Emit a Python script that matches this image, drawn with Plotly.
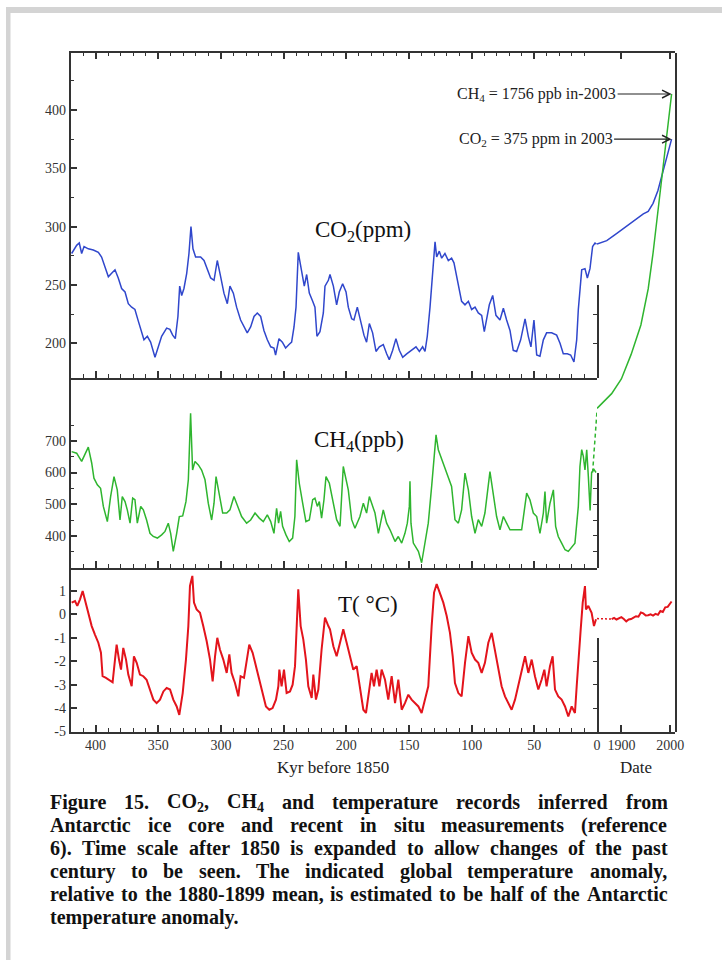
import plotly.graph_objects as go

# ---------------- data ----------------
co2_kyr = [419.1, 415.1, 413.0, 411.1, 409.2, 405.8, 401.8, 397.8, 395.2, 391.7, 389.8, 387.2, 384.5, 381.9,
           379.2, 376.5, 373.9, 371.2, 368.6, 365.9, 363.2, 361.4, 358.7, 356.1, 352.6, 350.0, 347.3, 343.3,
           340.7, 338.5, 336.4, 334.3, 332.9, 331.3, 329.5, 327.3, 325.5, 323.9, 322.3, 320.2, 316.2, 313.5,
           310.9, 308.2, 305.5, 303.9, 302.9, 300.2, 297.6, 294.9, 292.8, 290.1, 287.5, 284.3, 281.6, 279.0,
           276.3, 273.6, 271.0, 268.3, 265.7, 263.0, 260.3, 257.7, 256.4, 253.7, 251.0, 248.4, 245.7, 243.6,
           241.7, 240.1, 238.3, 235.6, 233.5, 231.6, 229.5, 226.8, 225.0, 223.4, 221.0, 218.3, 217.0, 214.3,
           213.0, 210.3, 207.7, 205.6, 202.9, 200.2, 198.4, 195.7, 193.9, 191.2, 188.5, 185.9, 183.8, 181.6,
           179.0, 176.3, 173.6, 170.5, 167.8, 165.7, 163.0, 160.4, 157.7, 155.0, 151.8, 147.9, 144.4, 141.7,
           139.1, 137.2, 135.4, 133.2, 131.1, 129.2, 127.9, 125.8, 123.9, 121.3, 118.6, 116.0, 114.1, 112.5,
           110.6, 108.0, 105.3, 102.6, 100.0, 97.3, 94.7, 92.0, 89.9, 88.0, 85.9, 83.2, 80.6, 77.4, 74.7,
           72.1, 69.4, 66.8, 64.1, 60.9, 57.4, 54.8, 52.7, 50.3, 48.1, 45.5, 42.8, 40.2, 36.2, 32.2, 29.5,
           26.9, 23.7, 21.0, 18.4, 16.2, 14.9, 12.2, 9.6, 7.7, 5.6, 3.5, 1.6, 0.4]
co2_ppm = [277, 284, 286, 277, 283, 281, 280, 278, 274, 263, 257, 260, 263, 256,
           247, 244, 234, 231, 229, 219, 210, 203, 206, 201, 188, 197, 206, 213,
           212, 207, 204, 223, 249, 241, 247, 260, 277, 300, 281, 274, 274, 271,
           263, 256, 254, 263, 271, 257, 243, 234, 249, 243, 231, 220, 214, 209,
           214, 223, 226, 223, 211, 203, 197, 196, 190, 204, 201, 196, 199, 201,
           214, 231, 278, 260, 249, 259, 243, 236, 231, 206, 210, 226, 249, 254,
           259, 249, 233, 244, 251, 244, 231, 221, 220, 231, 220, 207, 201, 217,
           209, 193, 197, 199, 191, 186, 194, 204, 194, 188, 191, 194, 197, 193,
           197, 193, 206, 231, 263, 287, 274, 279, 273, 277, 271, 273, 269, 260,
           249, 236, 233, 236, 229, 231, 226, 224, 210, 220, 233, 241, 224, 220, 230,
           220, 211, 194, 193, 203, 221, 206, 197, 220, 190, 189, 203, 209, 209, 207, 200,
           191, 191, 190, 184, 203, 229, 263, 264, 256, 264, 283, 286, 285]

ch4_kyr = [419.1, 415.1, 411.1, 408.4, 405.8, 403.1, 401.3, 398.6, 396.0, 393.8, 390.6, 388.0, 385.3, 382.7,
           380.5, 378.7, 376.5, 374.7, 372.5, 370.4, 368.6, 366.7, 364.0, 361.9, 359.3, 356.6, 354.0, 350.7,
           347.3, 344.6, 342.0, 340.1, 338.0, 335.3, 333.2, 330.5, 327.9, 326.0, 324.2, 322.6, 320.7, 318.0,
           315.4, 312.7, 310.1, 307.4, 305.5, 303.9, 301.3, 298.6, 295.4, 292.8, 289.6, 286.9, 283.5, 279.5,
           276.3, 272.8, 269.4, 266.2, 263.0, 260.3, 257.7, 255.6, 254.0, 252.4, 250.8, 248.1, 245.5, 242.8,
           241.0, 239.6, 237.5, 234.8, 232.2, 229.5, 226.8, 225.0, 223.1, 221.5, 219.7, 217.8, 216.2, 213.5,
           210.3, 207.7, 205.0, 202.4, 198.4, 195.7, 193.1, 189.1, 186.4, 183.8, 181.6, 179.8, 177.1, 174.4,
           170.5, 167.8, 165.1, 161.1, 158.5, 155.8, 153.2, 151.3, 149.7, 149.2, 148.4, 146.5, 142.5, 139.9,
           137.2, 134.6, 131.9, 128.4, 126.6, 122.6, 118.6, 116.0, 113.3, 110.6, 108.0, 105.3, 102.6, 100.0,
           97.3, 94.7, 92.0, 89.4, 85.4, 82.7, 80.1, 77.4, 74.7, 72.1, 69.4, 65.4, 60.1, 56.1, 53.5, 50.8,
           48.1, 45.5, 42.8, 41.5, 40.2, 37.5, 34.8, 33.0, 30.9, 28.2, 25.5, 22.9, 20.2, 17.6, 14.9, 13.6,
           12.2, 10.9, 9.6, 8.2, 6.9, 5.5, 4.3, 2.5, 0.8]
ch4_ppb = [666, 661, 635, 656, 680, 630, 582, 561, 550, 493, 445, 524, 587, 545,
           450, 524, 508, 482, 440, 519, 514, 440, 493, 482, 450, 408, 398, 393,
           403, 414, 440, 408, 351, 408, 461, 463, 508, 577, 787, 608, 635, 624,
           608, 577, 503, 450, 503, 587, 535, 472, 472, 482, 524, 493, 461, 440,
           450, 472, 456, 445, 466, 445, 408, 487, 440, 477, 430, 403, 382, 393,
           461, 640, 566, 503, 445, 450, 514, 519, 493, 508, 456, 514, 587, 566,
           503, 451, 430, 619, 545, 451, 424, 461, 503, 472, 524, 503, 472, 408,
           482, 440, 419, 382, 398, 377, 408, 440, 493, 572, 440, 377, 351, 315,
           377, 440, 556, 719, 672, 629, 587, 556, 451, 440, 482, 598, 545, 461,
           408, 451, 430, 472, 603, 524, 461, 419, 461, 440, 419, 419, 419, 535, 514, 472,
           461, 408, 472, 540, 440, 503, 545, 430, 398, 377, 356, 351, 366, 377, 493, 619,
           672, 651, 608, 672, 587, 480, 600, 610, 600]

t_kyr = [419.1, 416.4, 414.6, 412.4, 410.3, 408.5, 405.8, 403.1, 400.5, 397.8, 395.7, 394.4, 391.7, 389.0,
         386.4, 384.5, 383.2, 381.3, 379.7, 377.9, 375.7, 373.9, 371.2, 369.4, 367.2, 364.6, 361.9, 359.3,
         356.6, 353.9, 351.3, 348.6, 345.9, 343.3, 340.6, 338.0, 335.3, 333.2, 330.5, 327.9, 326.0, 324.7,
         322.8, 321.5, 319.4, 316.7, 314.1, 311.4, 308.7, 306.6, 304.7, 302.9, 300.8, 298.1, 295.4, 293.3,
         291.5, 288.8, 286.1, 284.3, 281.6, 279.5, 277.4, 274.7, 272.0, 269.4, 266.7, 264.1, 261.4, 258.8,
         256.1, 254.2, 253.4, 251.6, 249.7, 247.6, 244.9, 242.8, 240.9, 238.3, 236.4, 234.3, 232.2, 230.3,
         227.6, 226.3, 224.2, 222.3, 219.7, 217.0, 214.3, 213.0, 210.3, 207.7, 205.0, 202.4, 199.7, 197.0,
         194.4, 191.7, 189.1, 186.4, 184.3, 181.6, 179.8, 177.9, 175.8, 173.6, 171.8, 169.1, 166.5, 163.8,
         161.1, 158.5, 155.8, 153.2, 150.5, 147.9, 145.2, 142.5, 139.9, 137.2, 134.6, 131.9, 130.0, 127.9,
         125.3, 122.6, 119.9, 117.3, 115.1, 113.3, 110.6, 108.0, 105.3, 102.6, 100.0, 97.3, 94.7, 92.0,
         89.4, 86.7, 84.0, 81.4, 78.7, 76.1, 73.4, 70.7, 68.1, 65.4, 62.8, 60.1, 57.4, 54.8, 52.1, 49.5,
         46.8, 44.2, 42.0, 40.2, 37.5, 35.4, 33.5, 30.9, 28.2, 25.5, 22.9, 20.2, 17.6, 16.2, 14.9, 13.0,
         11.4, 9.6, 8.8, 6.9, 4.3, 2.4, 0.8]
t_degc = [0.5, 0.57, 0.36, 0.64, 1.0, 0.64, 0.07, -0.5, -0.86, -1.21, -1.64, -2.64, -2.71, -2.79,
          -2.9, -1.93, -1.29, -1.93, -2.36, -1.43, -1.93, -2.57, -3.07, -1.79, -2.07, -2.57, -2.64, -2.79,
          -3.21, -3.64, -3.79, -3.64, -3.29, -3.14, -3.21, -3.64, -3.93, -4.29, -3.36, -1.93, -0.5, 1.21,
          1.64, 0.5, 0.21, 0.07, -0.5, -1.14, -1.93, -2.86, -1.79, -1.0, -1.5, -1.93, -2.5, -1.71,
          -2.5, -2.93, -3.5, -2.64, -2.71, -2.07, -1.29, -1.64, -2.21, -2.79, -3.36, -3.93, -4.07, -4.0,
          -3.64, -3.07, -2.36, -3.07, -2.36, -3.36, -3.29, -3.0, -2.21, 1.07, -0.5, -1.07, -1.93, -3.07,
          -3.57, -2.57, -3.64, -3.21, -1.5, -0.14, -0.5, -0.64, -1.36, -1.79, -1.21, -0.64, -1.21, -1.79,
          -2.36, -2.21, -3.21, -4.07, -4.21, -3.07, -2.5, -3.07, -2.36, -3.07, -2.36, -2.79, -3.64, -2.64,
          -3.79, -2.79, -4.07, -3.79, -3.43, -3.64, -3.79, -3.93, -4.21, -3.64, -3.07, -0.5, 0.93, 1.29,
          0.93, 0.5, -0.07, -0.79, -1.79, -2.93, -3.36, -3.5, -2.07, -0.93, -1.64, -1.93, -2.07, -2.5,
          -2.07, -1.21, -0.79, -1.5, -2.21, -3.07, -3.5, -3.79, -4.07, -3.64, -3.07, -2.36, -1.79, -2.5, -1.93, -2.64,
          -3.21, -2.79, -2.36, -3.07, -2.21, -1.79, -3.21, -3.5, -3.64, -3.93, -4.36, -3.93, -4.21, -3.07, -1.93, -0.64,
          0.5, 1.21, 0.21, 0.36, 0.07, -0.5, -0.21]

co2_year = [1850, 1870, 1890, 1910, 1930, 1945, 1955, 1965, 1975, 1985, 1995, 2003]
co2_modern = [285, 288, 294, 300, 306, 311, 313, 320, 331, 346, 361, 375]

ch4_year = [1850, 1880, 1900, 1920, 1940, 1955, 1965, 1975, 1985, 1995, 2003]
ch4_modern = [795, 840, 885, 960, 1050, 1160, 1270, 1400, 1530, 1660, 1756]
ch4_link_kyr = [3.5, 0.0]
ch4_link_ppb = [600, 795]

t_gap_year = [1850, 1880]
t_gap_degc = [-0.18, -0.2]
t_year = [1880, 1885, 1890, 1895, 1900, 1905, 1910, 1915, 1920, 1925, 1930, 1935, 1940, 1945,
          1950, 1955, 1960, 1965, 1970, 1975, 1980, 1985, 1990, 1995, 2000, 2003]
t_modern = [-0.2, -0.15, -0.22, -0.17, -0.12, -0.2, -0.3, -0.22, -0.2, -0.14, -0.08, -0.1, 0.08, 0.04,
            -0.05, -0.04, 0.0, -0.05, 0.02, -0.02, 0.14, 0.1, 0.3, 0.32, 0.45, 0.55]

kyr_ticks = [0, 50, 100, 150, 200, 250, 300, 350, 400]
co2_ticks = [200, 250, 300, 350, 400]
ch4_ticks = [400, 500, 600, 700]
t_ticks = [-5, -4, -3, -2, -1, 0, 1]
t_ticktext = ["-5", "-4", "-3", "-2", "-1", "0", "1"]
year_ticks = [1900, 2000]

caption_lines = [
    ["Figure", "15.", "CO<sub>2</sub>,", "CH<sub>4</sub>", "and", "temperature", "records", "inferred", "from"],
    ["Antarctic", "ice", "core", "and", "recent", "in", "situ", "measurements", "(reference"],
    ["6).", "Time", "scale", "after", "1850", "is", "expanded", "to", "allow", "changes", "of", "the", "past"],
    ["century", "to", "be", "seen.", "The", "indicated", "global", "temperature", "anomaly,"],
    ["relative", "to", "the", "1880-1899", "mean,", "is", "estimated", "to", "be", "half", "of", "the", "Antarctic"],
]
caption_last = "temperature anomaly."

# ---------------- geometry (pixels) ----------------
W, H = 722, 960
XL, X0, XR = 70.5, 597.0, 675.0
YT, Y1, Y2, Y3 = 52.5, 377.5, 567.5, 731.5

def fx(p):
    return p / W

def fy(p):
    return 1 - p / H

BLUE, GREEN, RED = "#3047cc", "#2fb52f", "#e3141c"
AX = "#333333"
SERIF = "Liberation Serif"
tickfont = dict(family=SERIF, size=14, color="#333333")

fig = go.Figure()
fig.add_trace(go.Scatter(x=co2_kyr, y=co2_ppm, xaxis="x", yaxis="y", mode="lines",
                         line=dict(color=BLUE, width=1.5)))
fig.add_trace(go.Scatter(x=ch4_kyr, y=ch4_ppb, xaxis="x2", yaxis="y2", mode="lines",
                         line=dict(color=GREEN, width=1.5)))
fig.add_trace(go.Scatter(x=ch4_link_kyr, y=ch4_link_ppb, xaxis="x2", yaxis="y2", mode="lines",
                         line=dict(color=GREEN, width=1.5, dash="4px,3px")))
fig.add_trace(go.Scatter(x=t_kyr, y=t_degc, xaxis="x3", yaxis="y3", mode="lines",
                         line=dict(color=RED, width=2.0)))
fig.add_trace(go.Scatter(x=co2_year, y=co2_modern, xaxis="x4", yaxis="y4", mode="lines",
                         line=dict(color=BLUE, width=1.5)))
fig.add_trace(go.Scatter(x=ch4_year, y=ch4_modern, xaxis="x5", yaxis="y5", mode="lines",
                         line=dict(color=GREEN, width=1.5)))
fig.add_trace(go.Scatter(x=t_gap_year, y=t_gap_degc, xaxis="x6", yaxis="y6", mode="lines",
                         line=dict(color=RED, width=1.5, dash="2px,2px")))
fig.add_trace(go.Scatter(x=t_year, y=t_modern, xaxis="x6", yaxis="y6", mode="lines",
                         line=dict(color=RED, width=2.0)))
# empty traces that register the short right-hand axes of the left panels
for xa, ya in (("x", "y7"), ("x2", "y8"), ("x3", "y9")):
    fig.add_trace(go.Scatter(x=[None], y=[None], xaxis=xa, yaxis=ya, mode="lines"))

base_x = dict(showgrid=False, zeroline=False, showline=True, linecolor=AX, linewidth=1.6, automargin=False,
              ticks="inside", tickcolor=AX, tickwidth=1.5, ticklen=7, tickfont=tickfont)
left_x = dict(base_x, domain=[fx(XL), fx(X0)], range=[420, 0], tickmode="array", tickvals=kyr_ticks,
              minor=dict(dtick=10, tick0=0, ticks="inside", ticklen=4, tickcolor=AX, tickwidth=1.3))
right_x = dict(base_x, domain=[fx(X0), fx(XR)], range=[1850, 2010], tickmode="array", tickvals=year_ticks)
base_y = dict(showgrid=False, zeroline=False, showline=True, linecolor=AX, linewidth=1.6, automargin=False,
              ticks="inside", tickcolor=AX, tickwidth=1.5, ticklen=7, tickfont=tickfont, tickmode="array")
hidden = dict(visible=False, automargin=False, showgrid=False, zeroline=False)

CO2_RANGE = [170.7, 449.3]
fig.update_layout(
    template="none",
    width=W, height=H, autosize=False,
    margin=dict(l=0, r=0, t=0, b=0, pad=0, autoexpand=False),
    paper_bgcolor="white", plot_bgcolor="rgba(0,0,0,0)",
    showlegend=False,
    xaxis=dict(left_x, anchor="y", mirror="ticks", showticklabels=False),
    xaxis2=dict(left_x, anchor="y2", showticklabels=False),
    xaxis3=dict(left_x, anchor="y3", showticklabels=True),
    yaxis=dict(base_y, domain=[fy(Y1), fy(YT)], range=CO2_RANGE, anchor="x", tickvals=co2_ticks,
               minor=dict(tickmode="array", tickvals=[225, 275, 325, 375, 425], ticks="inside",
                          ticklen=4, tickcolor=AX, tickwidth=1.3)),
    yaxis2=dict(base_y, domain=[fy(Y2), fy(Y1)], range=[300, 900], anchor="x2", tickvals=ch4_ticks,
                minor=dict(tickmode="array", tickvals=[350, 450, 550, 650, 750], ticks="inside",
                           ticklen=4, tickcolor=AX, tickwidth=1.3)),
    yaxis3=dict(base_y, domain=[fy(Y3), fy(Y2)], range=[-5, 2], anchor="x3", tickvals=t_ticks,
                ticktext=t_ticktext),
    xaxis4=dict(right_x, anchor="y4", side="top", showticklabels=False),
    yaxis4=dict(hidden, domain=[fy(Y1), fy(YT)], range=CO2_RANGE, anchor="x4"),
    xaxis5=dict(hidden, domain=[fx(X0), fx(XR)], range=[1850, 2010], anchor="y5"),
    yaxis5=dict(domain=[fy(Y3), fy(YT)], range=[-192.8, 1882.9], anchor="x5", side="right",
                showline=True, linecolor=AX, linewidth=1.6, ticks="", showticklabels=False,
                showgrid=False, zeroline=False, automargin=False),
    xaxis6=dict(right_x, anchor="y6", showticklabels=True),
    yaxis6=dict(hidden, domain=[fy(Y3), fy(Y2)], range=[-5, 2], anchor="x6"),
    yaxis7=dict(base_y, domain=[fy(Y1), fy(285.0)], range=[CO2_RANGE[0], 250], anchor="x", side="right",
                tickvals=[250], ticklen=8, showticklabels=False,
                minor=dict(tickmode="array", tickvals=[200, 225], ticks="inside", ticklen=4,
                           tickcolor=AX, tickwidth=1.3)),
    yaxis8=dict(base_y, domain=[fy(Y2), fy(472.5)], range=[300, 600], anchor="x2", side="right",
                tickvals=[600], ticklen=8, showticklabels=False,
                minor=dict(tickmode="array", tickvals=[350, 400, 450, 500, 550], ticks="inside",
                           ticklen=4, tickcolor=AX, tickwidth=1.3)),
    yaxis9=dict(base_y, domain=[fy(Y3), fy(637.8)], range=[-5, -1], anchor="x3", side="right",
                tickvals=[-1], ticklen=8, showticklabels=False,
                minor=dict(tickmode="array", tickvals=[-4, -3, -2], ticks="inside", ticklen=4,
                           tickcolor=AX, tickwidth=1.3)),
)

ann = []

def label(text, xpx, ypx, font):
    return dict(text=text, x=fx(xpx), y=fy(ypx), xref="paper", yref="paper", xanchor="center",
                yanchor="middle", showarrow=False, font=font)

label_font = dict(family=SERIF, size=23, color="#111111")
ann.append(label("CO<sub>2</sub>(ppm)", 363, 231, label_font))
ann.append(label("CH<sub>4</sub>(ppb)", 359, 441, label_font))
ann.append(label("T( °C)", 368, 604, label_font))
title_font = dict(family=SERIF, size=17, color="#222222")
ann.append(label("Kyr before 1850", 333, 767, title_font))
ann.append(label("Date", 636, 767, title_font))
arrow_font = dict(family=SERIF, size=16, color="#222222")
ann.append(dict(text="CH<sub>4</sub> = 1756 ppb in-2003", x=2003, y=ch4_modern[-1], xref="x5", yref="y5",
                showarrow=True, ax=-135, ay=0, arrowhead=5, arrowsize=1.4, arrowwidth=1.1,
                arrowcolor="#222222", font=arrow_font))
ann.append(dict(text="CO<sub>2</sub> = 375 ppm in 2003", x=2003, y=co2_modern[-1], xref="x4", yref="y4",
                showarrow=True, ax=-136, ay=0, arrowhead=5, arrowsize=1.4, arrowwidth=1.1,
                arrowcolor="#222222", font=arrow_font))

# ---------------- caption (justified, Times-Bold metrics) ----------------
TB = {' ': 250, '(': 333, ')': 333, ',': 250, '-': 333, '.': 250, '0': 500, '1': 500, '2': 500, '3': 500,
      '4': 500, '5': 500, '6': 500, '7': 500, '8': 500, '9': 500, 'A': 722, 'C': 722, 'F': 611, 'H': 778,
      'O': 778, 'T': 667, 'a': 500, 'b': 556, 'c': 444, 'd': 556, 'e': 444, 'f': 333, 'g': 500, 'h': 556,
      'i': 278, 'j': 333, 'k': 556, 'l': 278, 'm': 833, 'n': 556, 'o': 500, 'p': 556, 'q': 556, 'r': 444,
      's': 389, 't': 333, 'u': 556, 'v': 500, 'w': 722, 'x': 500, 'y': 500, 'z': 444}

def text_width(s, size):
    w, sub, i = 0.0, False, 0
    while i < len(s):
        if s.startswith("<sub>", i):
            sub, i = True, i + 5
            continue
        if s.startswith("</sub>", i):
            sub, i = False, i + 6
            continue
        w += TB.get(s[i], 500) * (0.7 if sub else 1.0)
        i += 1
    return w * size / 1000.0

CAP_SIZE = 20
CAP_L, CAP_R = 50, 668
CAP_Y = [802, 825, 848, 871, 894, 917]
cap_font = dict(family=SERIF, size=CAP_SIZE, color="#111111")
for words, ypx in zip(caption_lines, CAP_Y):
    widths = [text_width(wd, CAP_SIZE) for wd in words]
    gap = (CAP_R - CAP_L - sum(widths)) / (len(words) - 1)
    pos = CAP_L
    for wd, wdw in zip(words, widths):
        ann.append(dict(text="<b>" + wd + "</b>", x=fx(pos), y=fy(ypx), xref="paper", yref="paper",
                        xanchor="left", yanchor="middle", showarrow=False, borderpad=0, borderwidth=0,
                        font=cap_font))
        pos += wdw + gap
ann.append(dict(text="<b>" + caption_last + "</b>", x=fx(CAP_L), y=fy(CAP_Y[5]), xref="paper", yref="paper",
                xanchor="left", yanchor="middle", showarrow=False, borderpad=0, borderwidth=0, font=cap_font))

fig.update_layout(annotations=ann)

# page frame (light grey edge at top and left)
fig.update_layout(shapes=[
    dict(type="rect", xref="paper", yref="paper", x0=fx(6), x1=1, y0=fy(13), y1=fy(7),
         fillcolor="#d4d4d4", line=dict(width=0), layer="below"),
    dict(type="rect", xref="paper", yref="paper", x0=fx(6), x1=fx(10.5), y0=0, y1=fy(7),
         fillcolor="#d4d4d4", line=dict(width=0), layer="below"),
])

fig.write_html(
    "out.html",
    config={"displayModeBar": False},
    post_script=("document.documentElement.style.margin='0';document.body.style.margin='0';"
                 "document.documentElement.style.overflow='hidden';document.body.style.overflow='hidden';"),
)
